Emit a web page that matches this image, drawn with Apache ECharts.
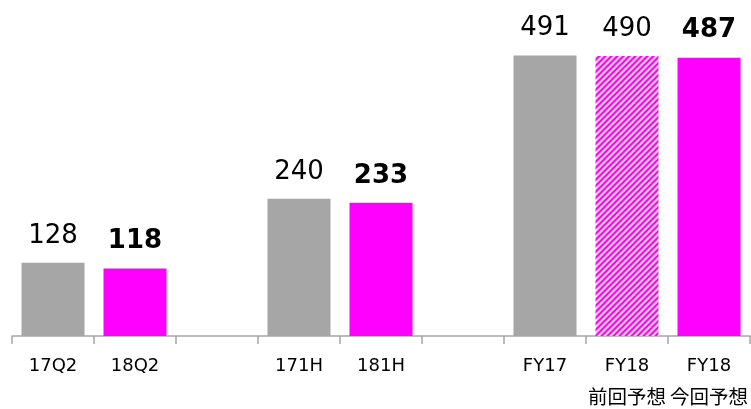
<!DOCTYPE html>
<html>
<head>
<meta charset="utf-8">
<script src="https://cdn.jsdelivr.net/npm/echarts@6/dist/echarts.min.js"></script>
<style>
html,body{margin:0;padding:0;background:#fff;}
#c{width:751px;height:409px;}
</style>
</head>
<body>
<div id="c"></div>
<script>
var categories = ['17Q2', '18Q2', '', '171H', '181H', '', 'FY17', 'FY18', 'FY18'];
var subLabels = ['', '', '', '', '', '', '', '前回予想', '今回予想'];
var values = [128, 118, null, 240, 233, null, 491, 490, 487];
var kinds = ['past', 'now', '', 'past', 'now', '', 'past', 'forecast', 'now'];

function makePattern() {
  var P = 6;
  var cv = document.createElement('canvas');
  cv.width = P; cv.height = P;
  var ctx = cv.getContext('2d');
  var img = ctx.createImageData(P, P);
  for (var y = 0; y < P; y++) {
    for (var x = 0; x < P; x++) {
      var m = (x + y) % P;
      var r = 255, g, b;
      if (m < 2) { g = 0; b = 255; }
      else if (m === 2 || m === 5) { g = 110; b = 240; }
      else { g = 215; b = 230; }
      var i = (y * P + x) * 4;
      img.data[i] = r; img.data[i + 1] = g; img.data[i + 2] = b; img.data[i + 3] = 255;
    }
  }
  ctx.putImageData(img, 0, 0);
  return cv;
}

var pattern = makePattern();
var fam = '"DejaVu Sans", "Noto Sans CJK JP", sans-serif';

var data = values.map(function (v, i) {
  var k = kinds[i];
  var color = k === 'past' ? '#a6a6a6' : (k === 'forecast' ? { image: pattern, repeat: 'repeat' } : '#ff00ff');
  return {
    value: v,
    itemStyle: { color: color },
    label: { fontWeight: k === 'now' ? 'bold' : 'normal' }
  };
});

var chart = echarts.init(document.getElementById('c'), null, { renderer: 'canvas' });
chart.setOption({
  animation: false,
  grid: { left: 12, right: 1, top: 16, bottom: 73 },
  xAxis: {
    type: 'category',
    data: categories,
    axisLine: { lineStyle: { color: '#a6a6a6', width: 1.5 } },
    axisTick: { show: true, length: 8, lineStyle: { color: '#a6a6a6', width: 1.5 } },
    axisLabel: {
      interval: 0, margin: 17, color: '#000', fontFamily: fam,
      formatter: function (val, idx) {
        var s = '{a|' + val + '}';
        if (subLabels[idx]) s += '\n{b|' + subLabels[idx] + '}';
        return s;
      },
      rich: {
        a: { fontSize: 18, lineHeight: 27, fontFamily: fam, color: '#000' },
        b: { fontSize: 19.5, lineHeight: 34, fontFamily: '"Noto Sans CJK JP", sans-serif', color: '#000' }
      }
    }
  },
  yAxis: {
    type: 'value', min: 0, max: 560, show: false, splitLine: { show: false }
  },
  series: [{
    type: 'bar',
    data: data,
    barWidth: 63,
    label: {
      show: true, position: 'top', distance: 14, color: '#000', fontSize: 26, fontFamily: fam
    }
  }]
});
</script>
</body>
</html>
